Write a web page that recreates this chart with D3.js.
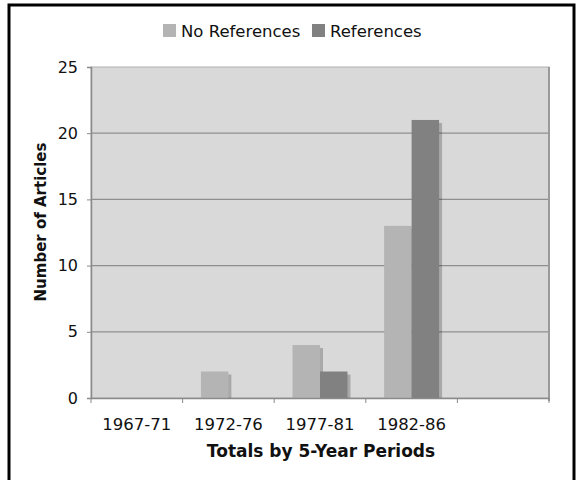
<!DOCTYPE html>
<html>
<head>
<meta charset="utf-8">
<script src="https://cdn.jsdelivr.net/npm/d3@7"></script>
<style>
  body { margin: 0; background: #fff; }
  text { font-family: "DejaVu Sans", Verdana, sans-serif; fill: #111; }
</style>
</head>
<body>
<div id="chart"></div>
<script>
// data
const periods = ["1967-71", "1972-76", "1977-81", "1982-86", ""];
const seriesNames = ["No References", "References"];
const noReferences = [0, 2, 4, 13, 0];
const references = [0, 0, 2, 21, 0];
const yTicks = [0, 5, 10, 15, 20, 25];

const colors = { "No References": "#b4b4b4", "References": "#818181" };

const width = 579, height = 480;
const margins = { top: 67, bottom: 82, left: 91, right: 30 };

const svg = d3.select("#chart").append("svg")
  .attr("width", width)
  .attr("height", height);

// outer frame (no bottom edge visible in the picture)
svg.append("path")
  .attr("d", "M9," + (height + 5) + " L9,5 L574,5 L574," + (height + 5))
  .attr("fill", "none")
  .attr("stroke", "#000")
  .attr("stroke-width", 3);

const x = d3.scaleBand()
  .domain(d3.range(periods.length))
  .range([margins.left, width - margins.right])
  .padding(0);

const xSub = d3.scaleBand()
  .domain(seriesNames)
  .range([x.bandwidth() * 0.2, x.bandwidth() * 0.8])
  .padding(0);

const y = d3.scaleLinear()
  .domain([0, 25])
  .range([height - margins.bottom, margins.top]);

// plot background
svg.append("rect")
  .attr("x", margins.left)
  .attr("y", margins.top)
  .attr("width", width - margins.left - margins.right)
  .attr("height", y(0) - margins.top)
  .attr("fill", "#d9d9d9")
  .attr("stroke", "#b0b0b0");

// gridlines
svg.append("g")
  .selectAll("line")
  .data(yTicks.slice(1, -1))
  .enter().append("line")
    .attr("x1", margins.left)
    .attr("x2", width - margins.right)
    .attr("y1", d => y(d))
    .attr("y2", d => y(d))
    .attr("stroke", "#8f8f8f")
    .attr("stroke-width", 1.3);

// right edge of plot
svg.append("line")
  .attr("x1", width - margins.right).attr("x2", width - margins.right)
  .attr("y1", margins.top).attr("y2", y(0) + 3)
  .attr("stroke", "#9a9a9a").attr("stroke-width", 2);

// bars
const rows = periods.map((p, i) => ({ i: i, "No References": noReferences[i], "References": references[i] }));

const groups = svg.append("g")
  .selectAll("g")
  .data(rows)
  .enter().append("g")
    .attr("transform", d => "translate(" + x(d.i) + ",0)");

const bars = groups.selectAll("g")
  .data(d => seriesNames.map(key => ({ key: key, value: d[key] })).filter(d => d.value > 0))
  .enter().append("g");

// drop shadow
bars.append("rect")
  .attr("x", d => xSub(d.key) + 3)
  .attr("y", d => y(d.value) + 3)
  .attr("width", xSub.bandwidth())
  .attr("height", d => y(0) - y(d.value) - 3)
  .attr("fill", "#000")
  .attr("opacity", 0.22);

bars.append("rect")
  .attr("x", d => xSub(d.key))
  .attr("y", d => y(d.value))
  .attr("width", xSub.bandwidth())
  .attr("height", d => y(0) - y(d.value))
  .attr("fill", d => colors[d.key]);

// y axis
const yAxis = svg.append("g")
  .attr("transform", "translate(" + margins.left + ",0)")
  .call(d3.axisLeft(y).tickValues(yTicks).tickSize(4).tickPadding(9));
yAxis.select(".domain").attr("stroke", "#8a8a8a").attr("stroke-width", 1.5);
yAxis.selectAll(".tick line").attr("stroke", "#8a8a8a");
yAxis.selectAll(".tick text").style("font-size", "16px").attr("fill", "#111");

// x axis
const xAxis = svg.append("g")
  .attr("transform", "translate(0," + y(0) + ")")
  .call(d3.axisBottom(x).tickSize(0).tickPadding(20).tickFormat(i => periods[i]));
xAxis.select(".domain").attr("stroke", "#8a8a8a").attr("stroke-width", 1.5);
xAxis.selectAll(".tick text").style("font-size", "16.5px").attr("fill", "#111");

// x tick marks at category boundaries
svg.append("g")
  .selectAll("line")
  .data(d3.range(periods.length + 1))
  .enter().append("line")
    .attr("x1", i => margins.left + i * x.bandwidth())
    .attr("x2", i => margins.left + i * x.bandwidth())
    .attr("y1", y(0))
    .attr("y2", y(0) + 5)
    .attr("stroke", "#8a8a8a");

// axis titles
svg.append("text")
  .attr("x", 321)
  .attr("y", 457)
  .attr("text-anchor", "middle")
  .style("font-size", "17px")
  .style("font-weight", "bold")
  .text("Totals by 5-Year Periods");

svg.append("text")
  .attr("transform", "translate(46,222) rotate(-90)")
  .attr("text-anchor", "middle")
  .style("font-size", "15px")
  .style("font-weight", "bold")
  .text("Number of Articles");

// legend
const legendX = [163, 312];
const legend = svg.append("g");
seriesNames.forEach((name, i) => {
  legend.append("rect")
    .attr("x", legendX[i]).attr("y", 24)
    .attr("width", 13).attr("height", 13)
    .attr("fill", colors[name]);
  legend.append("text")
    .attr("x", legendX[i] + 18).attr("y", 37)
    .style("font-size", "16.5px")
    .text(name);
});
</script>
</body>
</html>
